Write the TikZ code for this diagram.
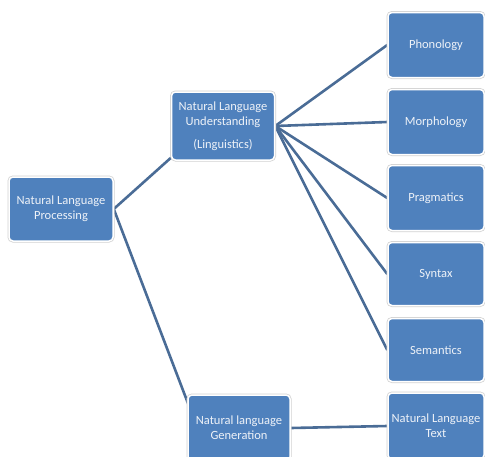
\documentclass[tikz,border=0pt]{standalone}
\usepackage{fontspec}
\setmainfont{Carlito}
\pgfdeclarelayer{bg}
\pgfsetlayers{bg,main}
\begin{document}
\begin{tikzpicture}[x=1pt,y=-1pt,
  box/.style={draw=white,line width=1.5pt,rounded corners=4pt,fill=boxblue,
    text=boxtext,font=\fontsize{12.5}{15}\selectfont,align=center,
    minimum width=#1,inner sep=2pt,
    preaction={draw=black!18,line width=3pt}},
  box/.default=100pt,
  link/.style={draw=linkblue,line width=2.6pt}]
\definecolor{boxblue}{HTML}{4F81BD}
\definecolor{boxtext}{HTML}{EEF2F8}
\definecolor{linkblue}{HTML}{4A6C96}
\useasboundingbox (0,0) rectangle (485,456);
\node[box=104pt,minimum height=64pt] (nlp) at (61,209) {Natural Language\\Processing};
\node[box=103pt,minimum height=68pt] (nlu) at (223,126) {Natural Language\\Understanding\\[8pt](Linguistics)};
\node[box=96pt,minimum height=65pt] (pho) at (436,45) {Phonology};
\node[box=96pt,minimum height=65pt] (mor) at (436,122) {Morphology};
\node[box=96pt,minimum height=65pt] (pra) at (436,198) {Pragmatics};
\node[box=96pt,minimum height=63pt] (syn) at (436,274) {Syntax};
\node[box=96pt,minimum height=63pt] (sem) at (436,350) {Semantics};
\node[box=102pt,minimum height=66pt] (nlg) at (239,428) {Natural language\\Generation};
\node[box=96pt,minimum height=66pt] (nlt) at (436,426) {Natural Language\\Text};
\begin{pgfonlayer}{bg}
\path[link] (nlp.east) -- ([xshift=8pt,yshift=10pt]nlu.south west);
\path[link] (nlp.east) -- ([xshift=3pt,yshift=-15pt]nlg.north west);
\foreach \t in {pho,mor,pra,syn,sem}
  \path[link] (nlu.east) -- (\t.west);
\path[link] (nlg.east) -- (nlt.west);
\end{pgfonlayer}
\end{tikzpicture}
\end{document}
